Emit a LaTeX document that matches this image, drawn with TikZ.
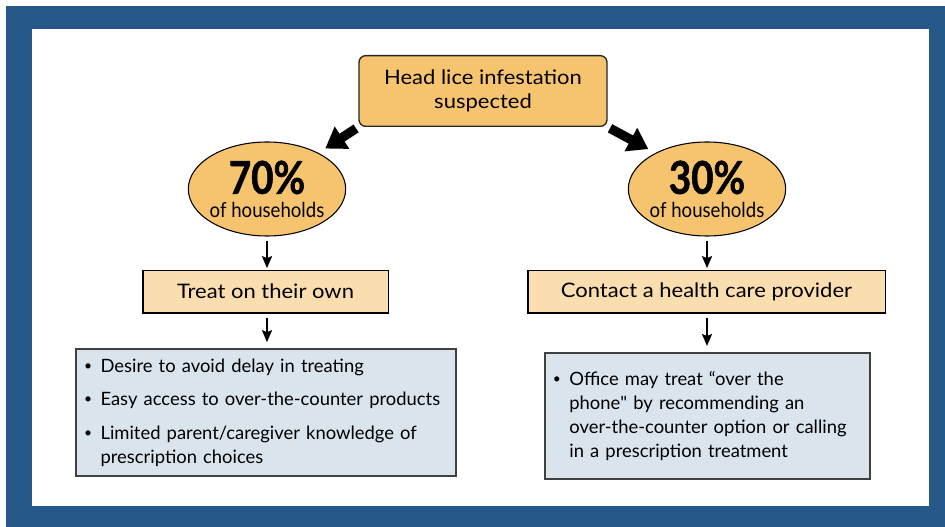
\documentclass[tikz,border=0pt]{standalone}
\usepackage{fontspec}
\setmainfont{Lato}
\usetikzlibrary{arrows.meta,shapes.geometric}

\definecolor{framebl}{HTML}{255888}
\definecolor{orangefill}{HTML}{F6C46E}
\definecolor{palefill}{HTML}{FADEB0}
\definecolor{bluefill}{HTML}{D9E4EC}

\newcommand{\boxfont}{\fontsize{15}{18}\addfontfeature{FakeStretch=1.1}\selectfont}
\newcommand{\pctfont}{\fontsize{34}{34}\bfseries\addfontfeature{FakeStretch=0.85,FakeBold=1.2}\selectfont}
\newcommand{\hhfont}{\fontsize{15.5}{17.5}\addfontfeature{FakeStretch=0.9}\selectfont}
\newcommand{\reasonitem}[1]{\hangindent=0.9em\hangafter=1\noindent\makebox[0.9em][l]{\raisebox{0.1em}{\scalebox{0.75}{\textbullet}}}#1\par}
\newcommand{\plainquote}{{\addfontfeature{Ligatures=TeXOff}"}}

\tikzset{
	startbox/.style={draw=black!85, fill=orangefill, rounded corners=5pt, line width=1pt,
		minimum width=186pt, minimum height=53pt, align=center, font=\boxfont},
	pctoval/.style={ellipse, draw, fill=orangefill, line width=0.8pt, minimum width=118pt,
		minimum height=70.5pt, inner sep=-12pt, align=center, font=\fontsize{15.5}{17.5}\selectfont},
	pathbox/.style={draw, fill=palefill, line width=1pt, minimum height=32pt, font=\boxfont},
	reasonbox/.style={draw=black!75, fill=bluefill, line width=1.5pt, inner xsep=6pt,
		font=\fontsize{13.8}{18}\selectfont},
	bigarrow/.style={line width=7pt, -{Triangle[length=15pt,width=19pt]}},
	smallarrow/.style={line width=1.5pt, -{Stealth[length=9pt,width=7.5pt,inset=1.5pt]}}
}

\begin{document}
\begin{tikzpicture}[x=0.75pt,y=-0.75pt]
	\useasboundingbox (0,0) rectangle (945,527);
	\fill[framebl] (6,6) rectangle (945,527);
	\fill[white] (32,29) rectangle (929,506);
	
	\node[startbox] (suspect) at (483,91) {Head lice infestation\\suspected};
	
	\node[pctoval] (pct70) at (267,189) {{\pctfont 70\%}\\{\hhfont of households}};
	\node[pctoval] (pct30) at (707,189) {{\pctfont 30\%}\\{\hhfont of households}};
	
	\node[pathbox, minimum width=184pt] (ownway) at (265.5,291.5) {Treat on their own};
	\node[pathbox, minimum width=268pt] (provider) at (706.5,291.5) {Contact a health care provider};
	
	\node[reasonbox, text width=273pt, minimum height=95pt] (ownwhy) at (266,412.5) {%
		\reasonitem{Desire to avoid delay in treating}\vspace{7pt}
		\reasonitem{Easy access to over-the-counter products}\vspace{7pt}
		\reasonitem{Limited parent/caregiver knowledge of\newline prescription choices}};
	\node[reasonbox, text width=232pt, minimum height=94.5pt] (providerwhy) at (707.5,416) {%
		\reasonitem{Office may treat “over the\newline phone\plainquote{} by recommending an\newline over-the-counter option or calling\newline in a prescription treatment}};
	
	\draw[bigarrow, shorten <=2pt, shorten >=6pt] (suspect.south west) -- (pct70.35);
	\draw[bigarrow, shorten <=2pt, shorten >=6pt] (suspect.south east) -- (pct30.145);
	
	\draw[smallarrow, shorten <=3pt, shorten >=1pt] (pct70.south) -- (pct70.south |- ownway.north);
	\draw[smallarrow, shorten <=3pt, shorten >=1pt] (pct30.south) -- (pct30.south |- provider.north);
	\draw[smallarrow, shorten <=3.5pt, shorten >=4.5pt] (ownway.south -| pct70.south) -- (pct70.south |- ownwhy.north);
	\draw[smallarrow, shorten <=3.5pt, shorten >=4.5pt] (provider.south -| pct30.south) -- (pct30.south |- providerwhy.north);
\end{tikzpicture}
\end{document}
